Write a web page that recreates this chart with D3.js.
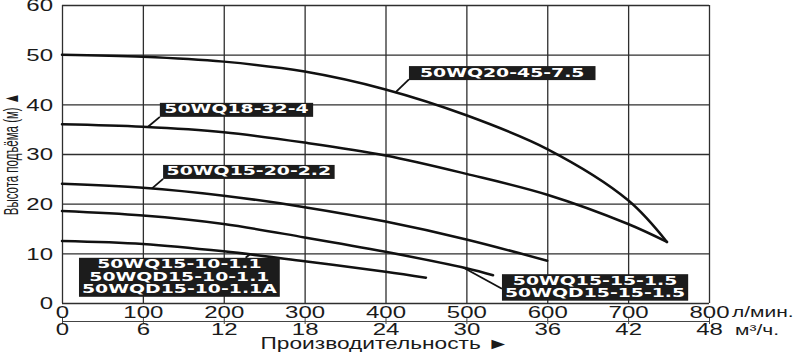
<!DOCTYPE html>
<html>
<head>
<meta charset="utf-8">
<script src="https://cdn.jsdelivr.net/npm/d3@7"></script>
<style>
  body { margin: 0; background: #fff; }
  svg { display: block; }
  .tick-label { font-family: 'Liberation Sans', Arial, sans-serif; font-size: 16px; fill: #1a1a1a; }
  .unit { font-family: 'Liberation Sans', Arial, sans-serif; font-size: 15px; fill: #1a1a1a; }
  .model { font-family: 'DejaVu Sans', Verdana, sans-serif; font-weight: bold; font-size: 13px; fill: #fff; }
</style>
</head>
<body>
<svg id="chart" width="800" height="354"></svg>
<script>
// axes (л/мин, м³/ч, м)
const flowTicks = [0, 100, 200, 300, 400, 500, 600, 700, 800];
const m3Ticks = [0, 6, 12, 18, 24, 30, 36, 42, 48];
const headTicks = [0, 10, 20, 30, 40, 50, 60];

// pump curves: [flow л/мин, head м]
const q20_45 = [[0, 50], [100, 49.6], [200, 48.6], [300, 46.6], [400, 43.0], [500, 37.8], [600, 31.0], [700, 20.7], [748, 12.3]];
const q18_32 = [[0, 36], [100, 35.5], [200, 34.4], [300, 32.3], [400, 29.7], [500, 26.0], [600, 21.8], [700, 15.9], [748, 12.3]];
const q15_20 = [[0, 24], [100, 23.2], [200, 21.6], [300, 19.3], [400, 16.4], [500, 12.8], [600, 8.5]];
const q15_15 = [[0, 18.5], [100, 17.6], [200, 15.9], [300, 13.2], [400, 10.3], [500, 7.0], [533, 5.6]];
const q15_10 = [[0, 12.5], [100, 11.9], [200, 10.4], [300, 8.4], [400, 6.3], [450, 5.1]];
const curves = [q20_45, q18_32, q15_20, q15_15, q15_10];

// model names for each curve
const modelNames = [
  ['50WQ20-45-7.5'],
  ['50WQ18-32-4'],
  ['50WQ15-20-2.2'],
  ['50WQ15-15-1.5', '50WQD15-15-1.5'],
  ['50WQ15-10-1.1', '50WQD15-10-1.1', '50WQD15-10-1.1A']
];

// label layout: pointer flow on the curve, box left (flow) / top (head), padding, pointer end on the box
const labelLayout = [
  { at: 412, left: 429, top: 47.7, pad: 11, end: [0, 0.95] },
  { at: 106, left: 121, top: 40.3, pad: 4.5, end: [0, 1] },
  { at: 111, left: 125, top: 27.8, pad: 3.5, end: [0, 1] },
  { at: 496, left: 544, top: 5.8, pad: 3, end: [0, 0.55] },
  { at: 232, left: 21, top: 9.1, pad: 3, end: [0.83, 0] }
];

const sx = 1.5;       // horizontal stretch of the original lettering
const sxModel = 1.45;
const lineH = 12.5;

const svg = d3.select('#chart');
const plot = { left: 62, right: 709, top: 5, bottom: 303 };

const x = d3.scaleLinear().domain([0, 800]).range([plot.left, plot.right]);
const x2 = d3.scaleLinear().domain([0, 48]).range([plot.left, plot.right]);
const y = d3.scaleLinear().domain([0, 60]).range([plot.bottom, plot.top]);

// grid
svg.append('g')
  .attr('transform', `translate(0,${plot.bottom})`)
  .call(d3.axisBottom(x).tickValues(flowTicks).tickSize(-(plot.bottom - plot.top)).tickFormat(''))
  .call(g => g.select('.domain').remove())
  .call(g => g.selectAll('line').attr('stroke', '#2e2e2e').attr('stroke-width', 1.3));

svg.append('g')
  .attr('transform', `translate(${plot.left},0)`)
  .call(d3.axisLeft(y).tickValues(headTicks).tickSize(-(plot.right - plot.left)).tickFormat(''))
  .call(g => g.select('.domain').remove())
  .call(g => g.selectAll('line').attr('stroke', '#2e2e2e').attr('stroke-width', 1.3));

// y tick labels
svg.append('g')
  .attr('transform', `translate(${plot.left},0)`)
  .call(d3.axisLeft(y).tickValues(headTicks).tickSize(0))
  .call(g => g.select('.domain').remove())
  .call(g => g.selectAll('text')
    .attr('class', 'tick-label')
    .attr('font-size', null).attr('font-family', null)
    .attr('x', -9 / sx).attr('dy', '0.36em')
    .attr('transform', `scale(${sx},1)`));

// x tick labels, л/мин
svg.append('g')
  .attr('transform', `translate(0,${plot.bottom})`)
  .call(d3.axisBottom(x).tickValues(flowTicks).tickSize(0))
  .call(g => g.select('.domain').remove())
  .call(g => g.selectAll('text')
    .attr('class', 'tick-label')
    .attr('font-size', null).attr('font-family', null)
    .attr('y', 15).attr('dy', null)
    .attr('transform', `scale(${sx},1)`));

// second axis, м³/ч
const axis2Y = 321;
svg.append('g')
  .attr('transform', `translate(0,${axis2Y})`)
  .call(d3.axisBottom(x2).tickValues(m3Ticks).tickSize(3).tickSizeOuter(0))
  .call(g => g.select('.domain').attr('stroke', '#444').attr('stroke-width', 1.2))
  .call(g => g.selectAll('line').attr('stroke', '#444').attr('y1', -3))
  .call(g => g.selectAll('text')
    .attr('class', 'tick-label')
    .attr('font-size', null).attr('font-family', null)
    .attr('y', 14).attr('dy', null)
    .attr('transform', `scale(${sx},1)`));

// unit labels
const unit = (txt, px, py) => svg.append('text')
  .attr('class', 'unit')
  .attr('transform', `translate(${px},${py}) scale(1.4,1)`)
  .text(txt);
unit('л/мин.', plot.right + 23, plot.bottom + 14);
unit('м³/ч.', plot.right + 26, axis2Y + 14);

// axis titles
svg.append('text')
  .attr('class', 'tick-label')
  .attr('text-anchor', 'middle')
  .attr('transform', `translate(385,349) scale(1.42,1)`)
  .text('Производительность ►');

svg.append('text')
  .attr('class', 'tick-label')
  .attr('text-anchor', 'middle')
  .style('font-size', '14px')
  .attr('transform', `translate(18,${(plot.top + plot.bottom) / 2}) scale(1.5,0.82) rotate(-90)`)
  .text('Высота подъёма (м) ▲');

// pump curves
const line = d3.line()
  .x(d => x(d[0]))
  .y(d => y(d[1]))
  .curve(d3.curveCatmullRom.alpha(0.5));

svg.append('g')
  .selectAll('path')
  .data(curves)
  .join('path')
  .attr('d', line)
  .attr('fill', 'none')
  .attr('stroke', '#111')
  .attr('stroke-width', 2.5)
  .attr('stroke-linecap', 'round');

// head on a curve at a given flow
function headAt(pts, f) {
  const i = Math.max(1, d3.bisector(d => d[0]).left(pts, f));
  const a = pts[i - 1], b = pts[Math.min(i, pts.length - 1)];
  const t = b[0] === a[0] ? 0 : (f - a[0]) / (b[0] - a[0]);
  return a[1] + t * (b[1] - a[1]);
}

// model labels
const labels = svg.append('g');
modelNames.forEach((names, i) => {
  const lay = labelLayout[i];
  const g = labels.append('g');
  const bx = x(lay.left);
  const by = y(lay.top);

  const texts = names.map(n => g.append('text')
    .attr('class', 'model')
    .attr('text-anchor', 'middle')
    .text(n));
  const tw = d3.max(texts, t => t.node().getComputedTextLength()) * sxModel;
  const bw = tw + lay.pad * 2;
  const bh = 10.5 + (names.length - 1) * lineH + 3.5;

  texts.forEach((t, k) => t
    .attr('transform', `translate(${bx + bw / 2},${by + 10.5 + k * lineH}) scale(${sxModel},1)`));

  g.insert('rect', 'text')
    .attr('x', bx).attr('y', by)
    .attr('width', bw).attr('height', bh)
    .attr('fill', '#1c1c1c');

  const px = x(lay.at), py = y(headAt(curves[i], lay.at));
  g.insert('line', 'rect')
    .attr('x1', px).attr('y1', py)
    .attr('x2', bx + lay.end[0] * bw).attr('y2', by + lay.end[1] * bh)
    .attr('stroke', '#111')
    .attr('stroke-width', 1.8);
});
</script>
</body>
</html>
